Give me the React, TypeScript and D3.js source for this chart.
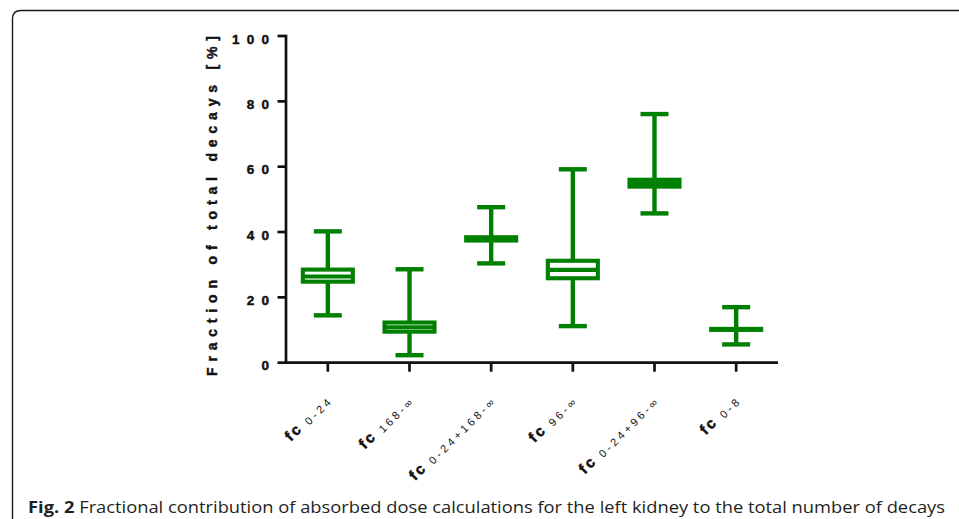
import React from "react";
import * as d3 from "d3";

// Box-plot summary for each fractional-contribution interval (percent of total decays)
const categories = ["0-24", "168-∞", "0-24+168-∞", "96-∞", "0-24+96-∞", "0-8"];
const whiskerLow = [14.5, 2.3, 30.4, 11.2, 45.7, 5.6];
const quartile1 = [24.8, 9.5, 37.4, 25.85, 53.9, 10.05];
const medians = [26.4, 10.85, 37.9, 28.4, 54.95, 10.2];
const quartile3 = [28.5, 12.3, 38.4, 31.2, 56.0, 10.35];
const whiskerHigh = [40.2, 28.6, 47.6, 59.2, 76.1, 17.0];
const yTicks = [0, 20, 40, 60, 80, 100];

const yTitle = "Fraction of total decays [%]";
const captionBold = "Fig. 2";
const captionText =
  " Fractional contribution of absorbed dose calculations for the left kidney to the total number of decays";

const W = 959;
const H = 519;
const GREEN = "#008000";
const AXIS = "#111";
const ARIAL = "'Liberation Sans', Arial, sans-serif";

export default function App() {
  const x = d3
    .scaleBand<string>()
    .domain(categories)
    .range([287, 777])
    .padding(0);
  const y = d3.scaleLinear().domain([0, 100]).range([362.7, 36]);

  const axisX = 286;
  const boxW = 50;
  const capW = 28;
  const tickLS = 7.2;

  return (
    <svg
      width={W}
      height={H}
      viewBox={`0 0 ${W} ${H}`}
      style={{ position: "absolute", left: 0, top: 0, background: "#fff" }}
    >
      {/* panel frame with rounded corner */}
      <path
        d={`M12.5,${H + 5} L12.5,19 Q12.5,10.5 21,10.5 L${W + 5},10.5`}
        fill="none"
        stroke="#1a1a1a"
        strokeWidth={1.4}
      />

      {/* y axis */}
      <line x1={axisX} x2={axisX} y1={y(100) - 1.3} y2={y(0) + 1.3} stroke={AXIS} strokeWidth={2.7} />
      {yTicks.map((t) => (
        <g key={t}>
          <line x1={axisX - 8.5} x2={axisX} y1={y(t)} y2={y(t)} stroke={AXIS} strokeWidth={2.7} />
          <text
            x={269 + tickLS}
            y={y(t) + 7.5}
            textAnchor="end"
            fontFamily={ARIAL}
            fontWeight="bold"
            fontSize={13.5}
            letterSpacing={tickLS}
            fill="#111"
            stroke="#111"
            strokeWidth={0.45}
          >
            {String(t)}
          </text>
        </g>
      ))}

      {/* y axis title */}
      <text
        transform={`translate(217,206) rotate(-90)`}
        textAnchor="middle"
        fontFamily={ARIAL}
        fontWeight="bold"
        fontSize={14}
        textLength={340}
        lengthAdjust="spacing"
        fill="#111"
        stroke="#111"
        strokeWidth={0.45}
      >
        {yTitle}
      </text>

      {/* x axis */}
      <line x1={axisX - 1.3} x2={778} y1={y(0)} y2={y(0)} stroke={AXIS} strokeWidth={2.7} />
      {categories.map((c) => {
        const cx = (x(c) as number) + x.bandwidth() / 2;
        return (
          <line key={c} x1={cx} x2={cx} y1={y(0)} y2={y(0) + 9} stroke={AXIS} strokeWidth={2.7} />
        );
      })}

      {/* category labels */}
      {categories.map((c) => {
        const cx = (x(c) as number) + x.bandwidth() / 2;
        return (
          <text
            key={c}
            transform={`translate(${cx + 5},${400}) rotate(-45)`}
            textAnchor="end"
            fontFamily={ARIAL}
            fill="#111"
          >
            <tspan fontWeight="bold" fontSize={15} letterSpacing={2.5} stroke="#111" strokeWidth={0.5}>
              fc
            </tspan>
            <tspan fontSize={11} dy={1.5} letterSpacing={3.2}>
              {" " + c}
            </tspan>
          </text>
        );
      })}

      {/* boxes and whiskers */}
      {categories.map((c, i) => {
        const cx = (x(c) as number) + x.bandwidth() / 2;
        return (
          <g key={c} stroke={GREEN} fill="none">
            <line x1={cx} x2={cx} y1={y(whiskerHigh[i])} y2={y(quartile3[i])} strokeWidth={4.4} />
            <line x1={cx} x2={cx} y1={y(quartile1[i])} y2={y(whiskerLow[i])} strokeWidth={4.4} />
            <line x1={cx - capW / 2} x2={cx + capW / 2} y1={y(whiskerHigh[i])} y2={y(whiskerHigh[i])} strokeWidth={4.4} />
            <line x1={cx - capW / 2} x2={cx + capW / 2} y1={y(whiskerLow[i])} y2={y(whiskerLow[i])} strokeWidth={4.4} />
            <rect
              x={cx - boxW / 2}
              y={y(quartile3[i])}
              width={boxW}
              height={y(quartile1[i]) - y(quartile3[i])}
              strokeWidth={4.1}
              fill="#fff"
            />
            <line x1={cx - boxW / 2} x2={cx + boxW / 2} y1={y(medians[i])} y2={y(medians[i])} strokeWidth={4.1} />
          </g>
        );
      })}

      {/* caption */}
      <text
        x={28}
        y={513}
        fontFamily="'Open Sans', 'Noto Sans', sans-serif"
        fontSize={16}
        fill="#231f20"
        textLength={917}
        lengthAdjust="spacingAndGlyphs"
      >
        <tspan fontWeight="bold">{captionBold}</tspan>
        <tspan>{captionText}</tspan>
      </text>
    </svg>
  );
}
